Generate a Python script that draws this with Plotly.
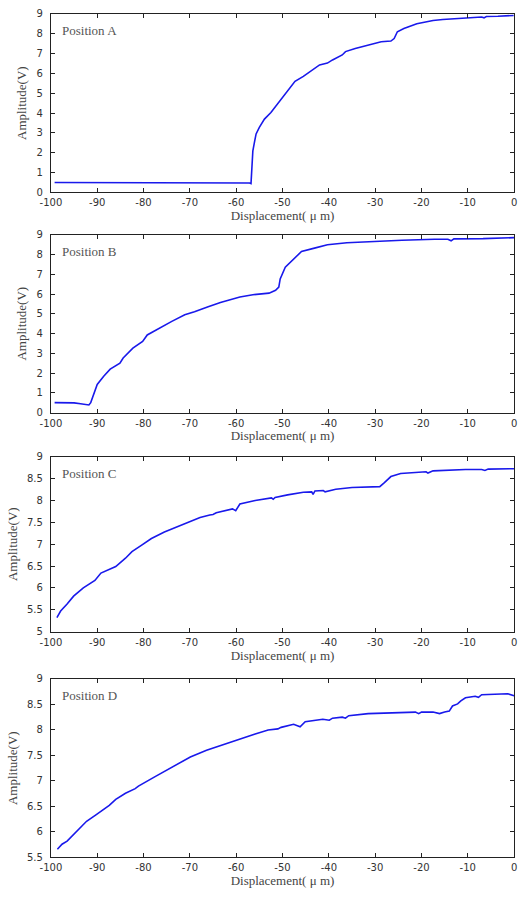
import plotly.graph_objects as go

# ---- data ----
xA = [-99.2, -80, -65, -58.0, -57.1, -56.8, -56.7, -56.4, -56.0, -55.7, -55.0, -53.9, -52.5, -51.1, -49.7,
      -48.3, -47.3, -45.5, -43.4, -42.0, -40.3, -39.2, -37.1, -36.4, -34.3, -31.5, -28.7,
      -26.6, -25.9, -25.2, -23.8, -21.0, -17.5, -15.4, -10.5, -7.0, -6.5, -6.0, -3.5, -0.1]
yA = [0.5, 0.5, 0.5, 0.5, 0.48, 0.45, 0.96, 2.1, 2.6, 2.95, 3.28, 3.7, 4.03, 4.44, 4.86,
      5.27, 5.6, 5.85, 6.18, 6.43, 6.52, 6.68, 6.93, 7.1, 7.26, 7.43, 7.6,
      7.63, 7.76, 8.1, 8.26, 8.5, 8.67, 8.72, 8.8, 8.84, 8.8, 8.87, 8.88, 8.92]

xB = [-99.2, -95.0, -93.6, -91.8, -91.4, -90.7, -90.0, -88.6, -87.2, -85.1, -84.4, -82.3, -80.2,
      -79.2, -76.7, -73.9, -71.1, -69.0, -66.2, -63.4, -59.2, -56.4, -52.9, -51.5, -50.8,
      -50.5, -49.4, -48.0, -45.9, -43.1, -40.3, -36.1, -31.2, -24.2, -17.2, -14.3, -13.6,
      -13.0, -6.7, 0.0]
yB = [0.5, 0.49, 0.44, 0.38, 0.5, 1.0, 1.42, 1.84, 2.2, 2.5, 2.76, 3.26, 3.6,
      3.93, 4.26, 4.62, 4.95, 5.1, 5.35, 5.58, 5.85, 5.97, 6.05, 6.19, 6.35,
      6.77, 7.36, 7.69, 8.16, 8.33, 8.5, 8.6, 8.66, 8.73, 8.78, 8.78, 8.7,
      8.8, 8.81, 8.86]

xC = [-98.7, -97.9, -96.5, -95.1, -93.0, -90.9, -90.5, -89.2, -87.4, -86.0, -83.9, -82.5, -80.4,
      -78.3, -75.5, -72.7, -69.9, -67.8, -65.7, -65.0, -64.3, -60.8, -60.1, -59.6, -59.2,
      -55.9, -52.4, -52.0, -51.6, -48.9, -45.5, -43.7, -43.4, -43.0, -41.2, -40.8, -38.5,
      -35.0, -31.5, -29.0, -28.0, -26.6, -24.5, -21.0, -19.0, -18.6, -17.5, -10.5, -7.0,
      -6.3, -5.6, 0.0]
yC = [5.32, 5.47, 5.63, 5.81, 6.0, 6.15, 6.17, 6.34, 6.42, 6.49, 6.68, 6.83, 6.98,
      7.13, 7.28, 7.4, 7.52, 7.61, 7.67, 7.68, 7.72, 7.81, 7.77, 7.85, 7.92,
      8.0, 8.06, 8.03, 8.07, 8.13, 8.19, 8.2, 8.14, 8.22, 8.23, 8.2, 8.26,
      8.3, 8.32, 8.32, 8.41, 8.55, 8.62, 8.65, 8.66, 8.63, 8.68, 8.71, 8.71,
      8.69, 8.72, 8.73]

xD = [-98.6, -97.6, -96.5, -94.4, -92.3, -90.2, -88.1, -87.4, -86.0, -83.9, -81.8, -81.1,
      -77.6, -73.4, -69.9, -66.4, -62.9, -59.4, -55.9, -53.1, -51.0, -50.3, -47.6, -46.2,
      -45.1, -41.3, -39.9, -39.2, -37.1, -36.4, -35.7, -31.5, -24.5, -21.3, -20.6, -20.0,
      -17.5, -16.1, -15.0, -14.0, -13.3, -12.2, -11.5, -10.5, -8.4, -7.7, -7.0, -3.5,
      -1.4, 0.0]
yD = [5.66, 5.76, 5.82, 6.02, 6.21, 6.34, 6.47, 6.52, 6.64, 6.76, 6.85, 6.9,
      7.08, 7.29, 7.47, 7.6, 7.71, 7.82, 7.92, 8.0, 8.02, 8.05, 8.11, 8.06,
      8.16, 8.21, 8.19, 8.23, 8.25, 8.23, 8.28, 8.32, 8.35, 8.35, 8.32, 8.35,
      8.35, 8.32, 8.35, 8.37, 8.47, 8.51, 8.57, 8.63, 8.66, 8.64, 8.69, 8.7,
      8.71, 8.67]

labels = ["Position A", "Position B", "Position C", "Position D"]
xticks = [-100, -90, -80, -70, -60, -50, -40, -30, -20, -10, 0]
yticks_AB = [0, 1, 2, 3, 4, 5, 6, 7, 8, 9]
yticks_C = [5, 5.5, 6, 6.5, 7, 7.5, 8, 8.5, 9]
yticks_D = [5.5, 6, 6.5, 7, 7.5, 8, 8.5, 9]

series = [(xA, yA, [0, 9], yticks_AB), (xB, yB, [0, 9], yticks_AB),
          (xC, yC, [5, 9], yticks_C), (xD, yD, [5.5, 9], yticks_D)]

W, H = 521, 900
boxes = [(8, 189), (232, 412), (457, 634), (682, 863)]
xl, xr = 41, 517

fig = go.Figure()
tickfont = dict(family="DejaVu Sans", size=10, color="#333333")
titlefont = dict(family="Liberation Serif", size=13, color="#444444")

for i, (xs, ys, yr, yt) in enumerate(series):
    n = "" if i == 0 else str(i + 1)
    fig.add_trace(go.Scatter(x=xs, y=ys, mode="lines",
                             line=dict(color="rgb(25,25,235)", width=1.6),
                             xaxis="x" + n, yaxis="y" + n, showlegend=False))
    top, bot = boxes[i]
    fig.layout["xaxis" + n] = dict(
        domain=[xl / W, xr / W], range=[-100, 0], anchor="y" + n,
        tickvals=xticks, ticktext=[str(v) for v in xticks],
        ticks="inside", ticklen=4, tickcolor="#222", showline=True, linecolor="#222",
        linewidth=1, mirror="allticks", showgrid=False, zeroline=False,
        tickfont=tickfont, ticklabelstandoff=1,
        title=dict(text="Displacement( μ m)", font=titlefont, standoff=0))
    fig.layout["yaxis" + n] = dict(
        domain=[1 - bot / H, 1 - top / H], range=yr, anchor="x" + n,
        tickvals=yt, ticktext=[("%g" % v) for v in yt],
        ticks="inside", ticklen=4, tickcolor="#222", showline=True, linecolor="#222",
        linewidth=1, mirror="allticks", showgrid=False, zeroline=False,
        tickfont=tickfont, ticklabelstandoff=5,
        title=dict(text="Amplitude(V)", font=titlefont, standoff=6))
    fig.add_annotation(text=labels[i], xref="x" + n, yref="paper",
                       x=-98, y=1 - (top + 17) / H, xanchor="left", yanchor="middle",
                       showarrow=False,
                       font=dict(family="Liberation Serif", size=13, color="#555555"))

fig.update_layout(width=W, height=H, margin=dict(l=0, r=0, t=0, b=0),
                  paper_bgcolor="white", plot_bgcolor="white")
fig.write_html("out.html")
